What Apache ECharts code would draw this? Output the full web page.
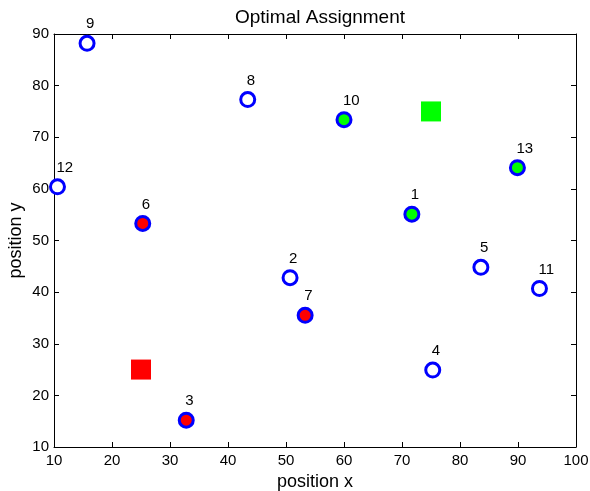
<!DOCTYPE html>
<html>
<head>
<meta charset="utf-8">
<script src="https://cdn.jsdelivr.net/npm/echarts@6/dist/echarts.min.js"></script>
<style>
  html, body { margin: 0; padding: 0; background: #fff; }
  #chart { width: 590px; height: 491px; }
</style>
</head>
<body>
<div id="chart"></div>
<script>
// targets, labelled 1..13
const targetX = [71.7, 50.7, 32.8, 75.3, 83.6, 25.3, 53.3, 43.4, 15.7, 60.0, 93.7, 10.6, 89.9];
const targetY = [55.1, 42.8, 15.2, 24.9, 44.8, 53.3, 35.5, 77.3, 88.2, 73.4, 40.7, 60.4, 64.1];
// 0 = not assigned, 1 = red agent, 2 = green agent
const assignment = [2, 0, 1, 0, 0, 1, 1, 0, 0, 2, 0, 0, 2];
const agentX = [25, 75];
const agentY = [25, 75];
const xTicks = [10, 20, 30, 40, 50, 60, 70, 80, 90, 100];
const yTicks = [10, 20, 30, 40, 50, 60, 70, 80, 90];

const fills = ['#ffffff', '#ff0000', '#00ff00'];
const fontFamily = '"Liberation Sans", Arial, sans-serif';

const targetData = targetX.map((x, i) => ({
  value: [x, targetY[i]],
  name: String(i + 1),
  itemStyle: { color: fills[assignment[i]] }
}));

const agentData = agentX.map((x, i) => ({
  value: [x, agentY[i]],
  itemStyle: { color: fills[i + 1] }
}));

const axisLine = { show: true, onZero: false, lineStyle: { color: '#000', width: 1 } };
const tickStyle = { inside: true, length: 5, lineStyle: { color: '#000', width: 1 } };

const option = {
  animation: false,
  backgroundColor: '#fff',
  title: {
    text: 'Optimal Assignment',
    left: 315,
    top: 3,
    textAlign: 'center',
    textStyle: { fontFamily: fontFamily, fontSize: 19, fontWeight: 'normal', color: '#000' }
  },
  grid: { left: 54, right: 14, top: 34, bottom: 44, outerBoundsMode: 'none', containLabel: false },
  xAxis: [
    {
      type: 'value', min: 10, max: 100, interval: 10,
      name: 'position x', nameLocation: 'middle', nameGap: 26, nameMoveOverlap: false,
      nameTextStyle: { fontFamily: fontFamily, fontSize: 18, color: '#000' },
      axisLine: axisLine, axisTick: tickStyle,
      axisLabel: { color: '#000', fontFamily: fontFamily, fontSize: 15, margin: 6,
        formatter: v => xTicks.includes(v) ? String(v) : '' },
      splitLine: { show: false }
    },
    {
      type: 'value', min: 10, max: 100, interval: 10, position: 'top',
      axisLine: axisLine, axisTick: tickStyle, axisLabel: { show: false }, splitLine: { show: false }
    }
  ],
  yAxis: [
    {
      type: 'value', min: 10, max: 90, interval: 10,
      name: 'position y', nameLocation: 'middle', nameGap: 29, nameMoveOverlap: false,
      nameTextStyle: { fontFamily: fontFamily, fontSize: 18, color: '#000' },
      axisLine: axisLine, axisTick: tickStyle,
      axisLabel: { color: '#000', fontFamily: fontFamily, fontSize: 15, margin: 5,
        formatter: v => yTicks.includes(v) ? String(v) : '' },
      splitLine: { show: false }
    },
    {
      type: 'value', min: 10, max: 90, interval: 10, position: 'right',
      axisLine: axisLine, axisTick: tickStyle, axisLabel: { show: false }, splitLine: { show: false }
    }
  ],
  series: [
    {
      type: 'scatter',
      symbol: 'rect',
      symbolSize: 20,
      clip: false,
      itemStyle: { opacity: 1 },
      data: agentData
    },
    {
      type: 'scatter',
      symbol: 'circle',
      symbolSize: 14,
      clip: false,
      itemStyle: { borderColor: '#0000ff', borderWidth: 3, opacity: 1 },
      label: {
        show: true,
        position: 'inside',
        formatter: '{b}',
        align: 'left',
        verticalAlign: 'middle',
        offset: [-1, -19],
        color: '#000',
        fontFamily: fontFamily,
        fontSize: 15
      },
      data: targetData
    }
  ]
};

const chart = echarts.init(document.getElementById('chart'));
chart.setOption(option);
</script>
</body>
</html>
